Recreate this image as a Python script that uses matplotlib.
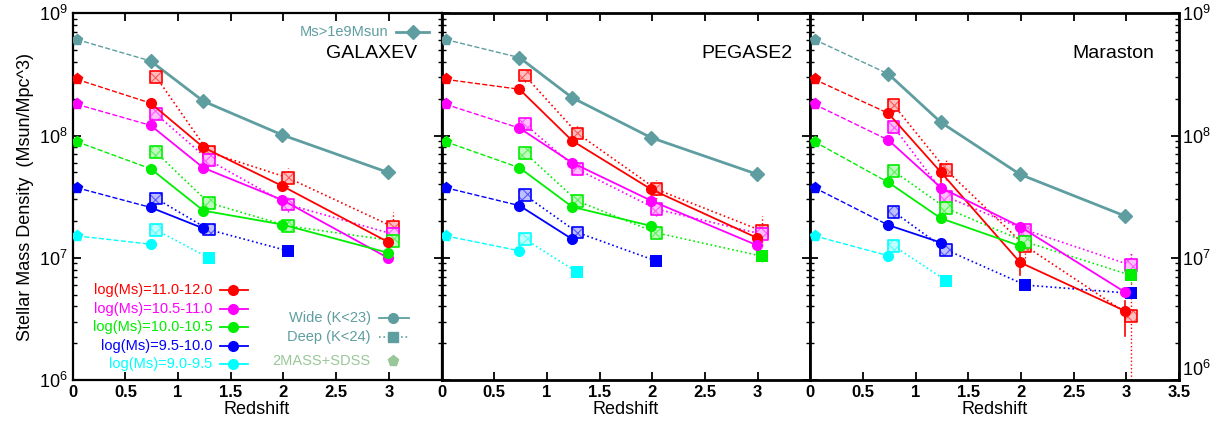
import numpy as np
import matplotlib
matplotlib.use("Agg")
import matplotlib.pyplot as plt
import matplotlib.colors as mcolors

plt.rcParams['font.family'] = ['Liberation Sans', 'DejaVu Sans']
plt.rcParams['hatch.linewidth'] = 0.8

# redshift positions
z_local = 0.04
z_wide = [0.74, 1.24, 1.99, 2.99]
z_deep = [0.79, 1.29, 2.04, 3.04]

bins = ['log(Ms)=11.0-12.0', 'log(Ms)=10.5-11.0', 'log(Ms)=10.0-10.5',
        'log(Ms)=9.5-10.0', 'log(Ms)=9.0-9.5']
colors = ['#ff0000', '#ff00ff', '#00ee00', '#0000ff', '#00ffff']
teal = '#5f9ea0'

# 2MASS+SDSS local values (same for all models)
local_bins = [2.88e8, 1.8e8, 8.9e7, 3.74e7, 1.51e7]
local_total = 6.1e8

# GALAXEV
gal_total = [4.07e8, 1.91e8, 1.01e8, 5.0e7]
gal_wide = [[1.84e8, 8.0e7, 3.86e7, 1.35e7],
            [1.21e8, 5.44e7, 2.97e7, 1.0e7],
            [5.35e7, 2.43e7, 1.87e7, 1.1e7],
            [2.58e7, 1.74e7, None, None],
            [1.29e7, None, None, None]]
gal_deep = [[3.03e8, 7.3e7, 4.52e7, 1.79e7],
            [1.5e8, 6.3e7, 2.73e7, 1.56e7],
            [7.3e7, 2.82e7, 1.82e7, 1.38e7],
            [3.06e7, 1.7e7, 1.14e7, None],
            [1.69e7, 1.0e7, None, None]]
gal_deep_err = [[0.05, 0.07, 0.08, 0.12],
                [0.03, 0.05, 0.06, 0.09],
                [0.02, 0.03, 0.03, 0.05],
                [0.02, 0.02, 0.0, 0.0],
                [0.0, 0.0, 0.0, 0.0]]

# PEGASE2
peg_total = [4.34e8, 2.04e8, 9.6e7, 4.84e7]
peg_wide = [[2.39e8, 9.07e7, 3.63e7, 1.46e7],
            [1.15e8, 5.99e7, 2.93e7, 1.27e7],
            [5.45e7, 2.61e7, 1.82e7, None],
            [2.67e7, 1.42e7, None, None],
            [1.14e7, None, None, None]]
peg_deep = [[3.1e8, 1.04e8, 3.63e7, 1.66e7],
            [1.24e8, 5.29e7, 2.5e7, 1.56e7],
            [7.23e7, 2.91e7, 1.6e7, 1.03e7],
            [3.26e7, 1.61e7, 9.4e6, None],
            [1.42e7, 7.6e6, None, None]]
peg_deep_err = [[0.05, 0.07, 0.08, 0.12],
                [0.03, 0.05, 0.06, 0.09],
                [0.02, 0.03, 0.03, 0.05],
                [0.02, 0.02, 0.0, 0.0],
                [0.0, 0.0, 0.0, 0.0]]

# Maraston
mar_total = [3.19e8, 1.28e8, 4.81e7, 2.19e7]
mar_wide = [[1.52e8, 5.0e7, 9.17e6, 3.66e6],
            [9.19e7, 3.74e7, 1.8e7, 5.21e6],
            [4.14e7, 2.1e7, 1.25e7, None],
            [1.85e7, 1.33e7, None, None],
            [1.04e7, None, None, None]]
mar_deep = [[1.78e8, 5.22e7, 1.25e7, 3.34e6],
            [1.18e8, 3.16e7, 1.69e7, 8.7e6],
            [5.12e7, 2.54e7, 1.35e7, 7.2e6],
            [2.38e7, 1.16e7, 5.98e6, 5.12e6],
            [1.25e7, 6.5e6, None, None]]
mar_deep_err = [[0.06, 0.08, 0.1, 0.52],
                [0.04, 0.05, 0.06, 0.1],
                [0.02, 0.04, 0.04, 0.06],
                [0.02, 0.02, 0.0, 0.0],
                [0.0, 0.0, 0.0, 0.0]]

models = ['GALAXEV', 'PEGASE2', 'Maraston']
model_x = [0.935, 0.951, 0.932]
panels = [(gal_total, gal_wide, gal_deep, gal_deep_err),
          (peg_total, peg_wide, peg_deep, peg_deep_err),
          (mar_total, mar_wide, mar_deep, mar_deep_err)]


def lighten(c, f=0.55):
    r = np.array(mcolors.to_rgb(c))
    return tuple(r + (1 - r) * f)


def pairs(xs, ys):
    p = [(x, y) for x, y in zip(xs, ys) if y is not None]
    return [a for a, b in p], [b for a, b in p]


fig = plt.figure(figsize=(12.2, 4.25), dpi=100)
left, bottom, w, h = 0.0596, 0.1059, 0.3023, 0.8628

for k, (total, wide, deep, derr) in enumerate(panels):
    ax = fig.add_axes([left + k * w, bottom, w, h])
    ax.set_yscale('log')
    ax.set_xlim(0, 3.5)
    ax.set_ylim(1e6, 1e9)

    # total Ms>1e9
    ax.plot([z_local, z_wide[0]], [local_total, total[0]], '--', color=teal, lw=1)
    ax.plot(z_wide, total, '-', color=teal, lw=2, marker='D', ms=7, zorder=4)
    ax.plot(z_local, local_total, 'p', color=teal, ms=8, zorder=4)

    for i, c in enumerate(colors):
        # local to first wide point
        ax.plot([z_local, z_wide[0]], [local_bins[i], wide[i][0]], '--', color=c, lw=1)
        ax.plot(z_local, local_bins[i], 'p', color=c, ms=8, zorder=4)
        # deep: dotted + hatched squares
        dx, dy = pairs(z_deep, deep[i])
        ax.plot(dx, dy, ':', color=c, lw=1.2, zorder=2)
        for j, (zz, v) in enumerate(zip(z_deep, deep[i])):
            if v is None:
                continue
            e = derr[i][j]
            if e > 0:
                ax.plot([zz, zz], [v / 10 ** e, v * 10 ** e], ':', color=c, lw=1, zorder=2)
            if wide[i][j] is None:
                ax.scatter([zz], [v], marker='s', s=80, color=c, linewidths=0, zorder=5)
            else:
                ax.scatter([zz], [v], marker='s', s=72, facecolor=lighten(c, 0.75),
                           edgecolor=lighten(c, 0.35), hatch='xxx', linewidths=0, zorder=5)
                ax.scatter([zz], [v], marker='s', s=72, facecolor='none',
                           edgecolor=c, linewidths=1.2, zorder=5)
        # wide: solid + circles
        wx, wy = pairs(z_wide, wide[i])
        ax.plot(wx, wy, '-', color=c, lw=1.3, marker='o', ms=7, zorder=6)

    if k == 2:
        # large error bars on the Maraston red wide points
        ax.plot([z_wide[3], z_wide[3]], [2.3e6, 4.4e6], '-', color=colors[0], lw=1.2, zorder=6)
        ax.plot([z_wide[1], z_wide[1]], [4.2e7, 5.9e7], '-', color=colors[0], lw=1.2, zorder=6)
        ax.plot([z_wide[2], z_wide[2]], [7.2e6, 1.12e7], '-', color=colors[0], lw=1.2, zorder=6)

    ax.text(model_x[k], 0.891, models[k], transform=ax.transAxes,
            ha='right', va='center', fontsize=14)

    for s in ax.spines.values():
        s.set_linewidth(1.6 if k == 0 else 2)
    ax.tick_params(which='both', direction='in', top=True, right=True)
    ax.tick_params(which='major', length=6, width=1.3)
    ax.tick_params(which='minor', length=3, width=1)
    ax.tick_params(axis='x', which='minor', top=False, bottom=False)
    ax.set_xticks(np.arange(0, 3.51, 0.5))
    if k < 2:
        ax.set_xticklabels(['0', '0.5', '1', '1.5', '2', '2.5', '3', ''])
    else:
        ax.set_xticklabels(['0', '0.5', '1', '1.5', '2', '2.5', '3', '3.5'])
    for t in ax.get_xticklabels():
        t.set_fontweight('bold')
        t.set_fontsize(12)
    ax.set_xlabel('Redshift', fontsize=13, labelpad=1)
    ax.set_yticks([1e6, 1e7, 1e8, 1e9])
    if k == 0:
        ax.tick_params(axis='y', labelsize=13, labelleft=True, labelright=False)
        ax.set_ylabel('Stellar Mass Density  (Msun/Mpc^3)', fontsize=13, labelpad=4)
    elif k == 1:
        ax.tick_params(axis='y', labelleft=False, labelright=False)
    else:
        ax.tick_params(axis='y', labelsize=13, labelleft=False, labelright=True, pad=2)
        lbl = ax.get_yticklabels()
        lbl[0].set_verticalalignment('bottom')

    if k == 0:
        tr = ax.transAxes
        # total legend
        ax.text(0.857, 0.950, 'Ms>1e9Msun', transform=tr, ha='right', va='center',
                color=teal, fontsize=10.5)
        ax.plot([0.877, 0.967], [0.950, 0.950], '-', color=teal, lw=2, transform=tr)
        ax.plot(0.922, 0.950, 'D', color=teal, ms=7, transform=tr)
        # mass bin legend
        rows = [0.2454, 0.1944, 0.1445, 0.0927, 0.0436]
        for i, c in enumerate(colors):
            ax.text(0.3786, rows[i], bins[i], transform=tr, ha='right', va='center',
                    color=c, fontsize=10.5)
            ax.plot([0.4004, 0.4765], [rows[i], rows[i]], '-', color=c, lw=1.3, transform=tr)
            ax.plot(0.4357, rows[i], 'o', color=c, ms=7, transform=tr)
        # survey legend
        ax.text(0.808, 0.168, 'Wide (K<23)', transform=tr, ha='right', va='center',
                color=teal, fontsize=10.5)
        ax.plot([0.830, 0.912], [0.168, 0.168], '-', color=teal, lw=1.3, transform=tr)
        ax.plot(0.868, 0.168, 'o', color=teal, ms=7, transform=tr)
        ax.text(0.808, 0.116, 'Deep (K<24)', transform=tr, ha='right', va='center',
                color=teal, fontsize=10.5)
        ax.plot([0.830, 0.912], [0.116, 0.116], ':', color=teal, lw=1.2, transform=tr)
        ax.plot(0.868, 0.116, 's', color=teal, ms=7.5, transform=tr)
        ax.text(0.808, 0.0526, '2MASS+SDSS', transform=tr, ha='right', va='center',
                color='#99c799', fontsize=10.5)
        ax.plot(0.868, 0.0526, 'p', color='#99c799', ms=8, transform=tr)

fig.savefig('out.png', dpi=100)
